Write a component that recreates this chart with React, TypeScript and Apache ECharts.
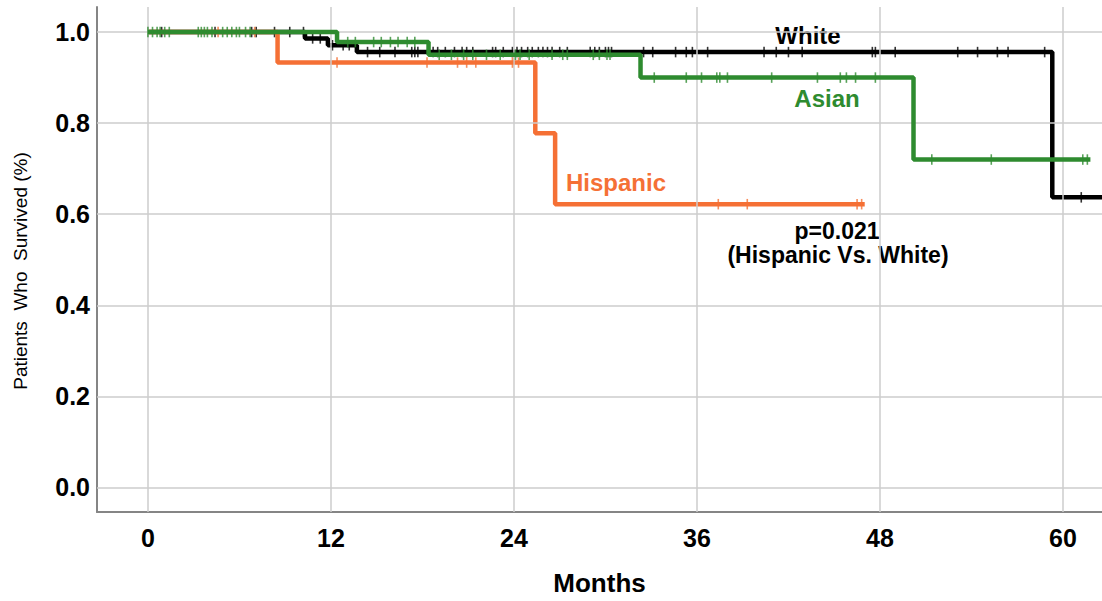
import React, { useEffect, useRef } from "react";
import * as echarts from "echarts";

// Axis ticks
const xTicks = [0, 12, 24, 36, 48, 60];
const yTicks = [0, 0.2, 0.4, 0.6, 0.8, 1.0];

// Kaplan-Meier step data (event times in months, survival after event)
const whiteTimes = [0, 10.3, 11.8, 13.7, 59.3];
const whiteSurv = [1, 0.986, 0.971, 0.956, 0.637];
const whiteEnd = 64;
const whiteCensor = [0.9, 4.4, 6.8, 7.1, 8.3, 9.3, 10.2, 10.8, 11.3, 12.1, 12.8, 13.2, 14.4, 15.2, 16.2, 17.3, 17.5, 17.7, 18.7, 19.0, 19.5, 20.1, 20.6, 20.9, 21.3, 22.6, 22.8, 23.3, 23.9, 24.2, 24.5, 24.9, 25.2, 25.6, 25.9, 26.2, 26.5, 27.0, 27.5, 29.0, 29.3, 29.6, 30.0, 30.2, 30.4, 32.5, 33.1, 34.6, 35.3, 35.7, 36.7, 40.4, 41.2, 42.0, 42.9, 47.5, 47.7, 49.0, 53.1, 54.4, 55.7, 56.4, 58.8, 61.2];

const asianTimes = [0, 12.4, 18.4, 32.3, 50.2];
const asianSurv = [1, 0.978, 0.95, 0.9, 0.72];
const asianEnd = 61.8;
const asianCensor = [0, 0.3, 0.6, 0.8, 1.1, 1.4, 3.3, 3.5, 3.7, 3.9, 4.2, 4.9, 5.2, 5.5, 5.8, 6.0, 6.4, 6.7, 13.1, 13.6, 14.8, 15.3, 15.9, 16.4, 17.0, 17.5, 19.1, 19.9, 20.7, 21.3, 22.2, 23.1, 24.1, 24.4, 25.0, 26.5, 27.2, 27.5, 29.2, 29.6, 30.1, 30.3, 33.2, 35.3, 36.3, 37.3, 37.5, 38.0, 40.9, 43.9, 45.4, 45.8, 46.4, 47.7, 51.4, 55.3, 61.3, 61.6];

const hispTimes = [0, 8.5, 25.4, 26.7];
const hispSurv = [1, 0.933, 0.778, 0.622];
const hispEnd = 47.0;
const hispCensor = [4.6, 7.0, 12.4, 18.3, 20.3, 20.9, 21.5, 23.9, 24.3, 37.4, 39.3, 46.5, 46.8];

const COLORS = { white: "#000000", asian: "#2e8b2f", hisp: "#f57035" };
const FONT = "'Liberation Sans', Arial, sans-serif";

function stepData(times: number[], surv: number[], end: number) {
  const d = times.map((t, i) => [t, surv[i]]);
  d.push([end, surv[surv.length - 1]]);
  return d;
}
function survAt(times: number[], surv: number[], t: number) {
  let s = surv[0];
  for (let i = 0; i < times.length; i++) if (times[i] <= t) s = surv[i];
  return s;
}
function censorData(times: number[], surv: number[], cens: number[]) {
  return cens.map((t) => [t, survAt(times, surv, t)]);
}

function curve(name: string, color: string, times: number[], surv: number[], end: number, cens: number[], z: number) {
  return [
    {
      name,
      type: "line",
      step: "end",
      data: stepData(times, surv, end),
      showSymbol: false,
      lineStyle: { color, width: 4.5 },
      itemStyle: { color },
      z,
      silent: true,
    },
    {
      name: name + " censored",
      type: "scatter",
      data: censorData(times, surv, cens),
      symbol: "rect",
      symbolSize: [1.6, 10.5],
      itemStyle: { color },
      z: z + 1,
      silent: true,
    },
  ];
}

export default function App() {
  const ref = useRef<HTMLDivElement>(null);
  useEffect(() => {
    document.body.style.margin = "0";
    const chart = echarts.init(ref.current!, null, { renderer: "svg" });
    const gridLine = { color: "#cccccc", width: 1.5, type: "solid" };
    chart.setOption({
      animation: false,
      backgroundColor: "#ffffff",
      grid: { left: 97, right: 0, top: 7, bottom: 88 },
      xAxis: {
        type: "value",
        min: -3.34,
        max: 62.56,
        axisLine: { show: true, onZero: false, lineStyle: { color: "#858585", width: 2 } },
        axisTick: { show: false },
        splitLine: { show: false },
        axisLabel: {
          customValues: xTicks,
          margin: 13,
          color: "#000",
          fontSize: 25,
          fontWeight: "bold",
          fontFamily: FONT,
          formatter: (v: number) => String(v),
        },
        name: "Months",
        nameLocation: "middle",
        nameGap: 58,
        nameTextStyle: { color: "#000", fontSize: 26, fontWeight: "bold", fontFamily: FONT },
      },
      yAxis: {
        type: "value",
        min: -0.054,
        max: 1.055,
        axisLine: { show: true, onZero: false, lineStyle: { color: "#858585", width: 2 } },
        axisTick: { show: false },
        splitLine: { show: false },
        axisLabel: {
          customValues: yTicks,
          margin: 7,
          color: "#000",
          fontSize: 25,
          fontWeight: "bold",
          fontFamily: FONT,
          formatter: (v: number) => v.toFixed(1),
        },
      },
      graphic: [
        {
          type: "text",
          x: 20,
          y: 271,
          rotation: Math.PI / 2,
          style: {
            text: "Patients  Who  Survived (%)",
            fill: "#000",
            font: "19px 'Liberation Sans', Arial, sans-serif",
            align: "center",
            verticalAlign: "middle",
          },
        },
        { type: "text", x: 808, y: 35, style: { text: "White", fill: COLORS.white, font: "bold 24px 'Liberation Sans', Arial, sans-serif", align: "center", verticalAlign: "middle" } },
        { type: "text", x: 827, y: 98, style: { text: "Asian", fill: COLORS.asian, font: "bold 24px 'Liberation Sans', Arial, sans-serif", align: "center", verticalAlign: "middle" } },
        { type: "text", x: 616, y: 182, style: { text: "Hispanic", fill: COLORS.hisp, font: "bold 24px 'Liberation Sans', Arial, sans-serif", align: "center", verticalAlign: "middle" } },
        { type: "text", x: 837, y: 231, style: { text: "p=0.021", fill: "#000", font: "bold 23px 'Liberation Sans', Arial, sans-serif", align: "center", verticalAlign: "middle" } },
        { type: "text", x: 838, y: 255, style: { text: "(Hispanic Vs. White)", fill: "#000", font: "bold 23px 'Liberation Sans', Arial, sans-serif", align: "center", verticalAlign: "middle" } },
      ],
      series: [
        {
          name: "grid",
          type: "line",
          data: [[0, 1]],
          showSymbol: false,
          lineStyle: { opacity: 0 },
          z: 1,
          silent: true,
          markLine: {
            silent: true,
            symbol: "none",
            label: { show: false },
            lineStyle: gridLine,
            data: [
              ...xTicks.map((v) => ({ xAxis: v })),
              ...yTicks.map((v) => ({ yAxis: v })),
            ],
          },
        },
        ...curve("White", COLORS.white, whiteTimes, whiteSurv, whiteEnd, whiteCensor, 2),
        ...curve("Hispanic", COLORS.hisp, hispTimes, hispSurv, hispEnd, hispCensor, 4),
        ...curve("Asian", COLORS.asian, asianTimes, asianSurv, asianEnd, asianCensor, 6),
      ],
    });
    return () => chart.dispose();
  }, []);
  return <div ref={ref} style={{ width: 1102, height: 601 }} />;
}
